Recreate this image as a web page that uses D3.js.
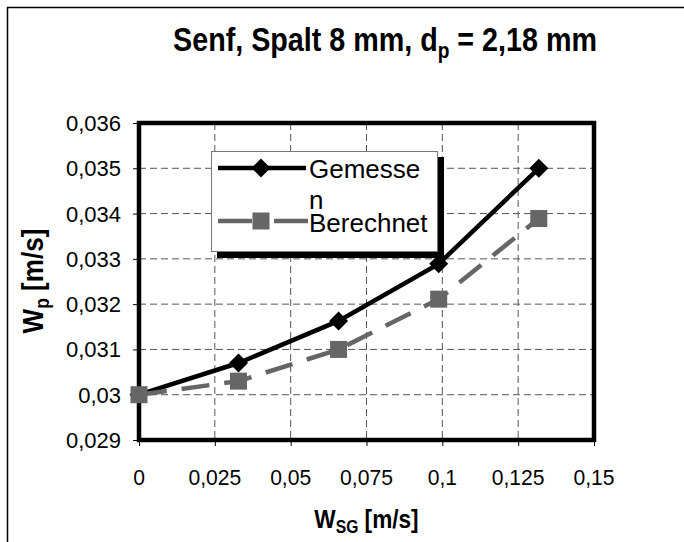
<!DOCTYPE html>
<html>
<head>
<meta charset="utf-8">
<script src="https://d3js.org/d3.v7.min.js"></script>
<style>
    body { margin: 0; background: #fff; }
    text { font-family: "Liberation Sans", Arial, sans-serif; }
</style>
</head>
<body>
<div id="chart"></div>
<script>
// data
var xValues = [0, 0.0328, 0.0658, 0.0988, 0.1318];
var gemessen = [0.0300, 0.0307, 0.03163, 0.03289, 0.0350];
var berechnet = [0.0300, 0.0303, 0.0310, 0.03211, 0.03389];
var seriesNames = ["Gemesse\nn", "Berechnet"];
var xTicks = [0, 0.025, 0.05, 0.075, 0.1, 0.125, 0.15];
var yTicks = [0.029, 0.030, 0.031, 0.032, 0.033, 0.034, 0.035, 0.036];

var W = 684, H = 542;
var plot = { left: 139, right: 594, top: 123, bottom: 440 };
var midX = (plot.left + plot.right) / 2;

var svg = d3.select("#chart")
    .append("svg")
    .attr("width", W)
    .attr("height", H);

// outer chart border (runs off the right and bottom)
svg.append("rect")
    .attr("x", 7.5).attr("y", 7.5)
    .attr("width", 800).attr("height", 800)
    .attr("fill", "none")
    .attr("stroke", "#000")
    .attr("stroke-width", 1.5);

var x = d3.scaleLinear().domain([0, 0.15]).range([plot.left, plot.right]);
var y = d3.scaleLinear().domain([0.029, 0.036]).range([plot.bottom, plot.top]);

function comma(v) {
    return String(+v.toFixed(4)).replace(".", ",");
}

// grid lines
svg.append("g")
    .selectAll("line")
    .data(yTicks.slice(1, -1))
    .enter()
    .append("line")
    .attr("x1", plot.left).attr("x2", plot.right)
    .attr("y1", function (d) { return y(d); })
    .attr("y2", function (d) { return y(d); })
    .attr("stroke", "#555")
    .attr("stroke-width", 1)
    .attr("stroke-dasharray", "7,4");

svg.append("g")
    .selectAll("line")
    .data(xTicks.slice(1, -1))
    .enter()
    .append("line")
    .attr("y1", plot.top).attr("y2", plot.bottom)
    .attr("x1", function (d) { return x(d); })
    .attr("x2", function (d) { return x(d); })
    .attr("stroke", "#555")
    .attr("stroke-width", 1)
    .attr("stroke-dasharray", "7,4");

// axes (ticks outside, labels with decimal comma drawn separately)
svg.append("g")
    .attr("transform", "translate(0," + plot.bottom + ")")
    .call(d3.axisBottom(x).tickValues(xTicks).tickSize(6).tickFormat(function () { return ""; }));
svg.append("g")
    .attr("transform", "translate(" + plot.left + ",0)")
    .call(d3.axisLeft(y).tickValues(yTicks).tickSize(6).tickFormat(function () { return ""; }));
svg.selectAll(".domain").remove();
svg.selectAll(".tick line").attr("stroke", "#000").attr("stroke-width", 1);
svg.selectAll(".tick text").remove();

svg.append("g")
    .selectAll("text")
    .data(xTicks)
    .enter()
    .append("text")
    .attr("transform", function (d) { return "translate(" + x(d) + ",485) scale(0.96,1)"; })
    .attr("text-anchor", "middle")
    .attr("font-size", 22)
    .text(function (d) { return comma(d); });

svg.append("g")
    .selectAll("text")
    .data(yTicks)
    .enter()
    .append("text")
    .attr("x", 121)
    .attr("y", function (d) { return y(d) + 8; })
    .attr("text-anchor", "end")
    .attr("font-size", 22)
    .text(function (d) { return comma(d); });

// plot frame
svg.append("rect")
    .attr("x", plot.left).attr("y", plot.top)
    .attr("width", plot.right - plot.left).attr("height", plot.bottom - plot.top)
    .attr("fill", "none")
    .attr("stroke", "#000")
    .attr("stroke-width", 4.5);

// series
var line = d3.line()
    .x(function (d, i) { return x(xValues[i]); })
    .y(function (d) { return y(d); });

var diamond = "M0,-9.5L9.5,0L0,9.5L-9.5,0Z";

svg.append("path")
    .datum(gemessen)
    .attr("fill", "none")
    .attr("stroke", "#000")
    .attr("stroke-width", 4.5)
    .attr("d", line);
svg.append("g")
    .selectAll("path")
    .data(gemessen)
    .enter()
    .append("path")
    .attr("d", diamond)
    .attr("fill", "#000")
    .attr("transform", function (d, i) { return "translate(" + x(xValues[i]) + "," + y(d) + ")"; });

svg.append("path")
    .datum(berechnet)
    .attr("fill", "none")
    .attr("stroke", "#666")
    .attr("stroke-width", 4.5)
    .attr("stroke-dasharray", "28,15")
    .attr("d", line);
svg.append("g")
    .selectAll("rect")
    .data(berechnet)
    .enter()
    .append("rect")
    .attr("x", function (d, i) { return x(xValues[i]) - 8.5; })
    .attr("y", function (d) { return y(d) - 8.5; })
    .attr("width", 17).attr("height", 17)
    .attr("fill", "#666");

// legend box with shadow
svg.append("rect")
    .attr("x", 217).attr("y", 157)
    .attr("width", 227).attr("height", 101)
    .attr("fill", "#000");
svg.append("rect")
    .attr("x", 211.5).attr("y", 151.5)
    .attr("width", 226).attr("height", 100)
    .attr("fill", "#fff")
    .attr("stroke", "#777")
    .attr("stroke-width", 1);

svg.append("line")
    .attr("x1", 218).attr("x2", 306)
    .attr("y1", 168).attr("y2", 168)
    .attr("stroke", "#000").attr("stroke-width", 4.5);
svg.append("path")
    .attr("d", diamond)
    .attr("fill", "#000")
    .attr("transform", "translate(261,168)");

svg.append("line")
    .attr("x1", 218).attr("x2", 308)
    .attr("y1", 221).attr("y2", 221)
    .attr("stroke", "#666").attr("stroke-width", 4.5)
    .attr("stroke-dasharray", "34,22");
svg.append("rect")
    .attr("x", 252.5).attr("y", 212.5)
    .attr("width", 17).attr("height", 17)
    .attr("fill", "#666");

var legendText = svg.append("text")
    .attr("font-size", 26)
    .attr("x", 309);
legendText.append("tspan").attr("x", 309).attr("y", 178).text(seriesNames[0].split("\n")[0]);
legendText.append("tspan").attr("x", 309).attr("y", 209).text(seriesNames[0].split("\n")[1]);
legendText.append("tspan").attr("x", 309).attr("y", 232).text(seriesNames[1]);

// title
var title = svg.append("text")
    .attr("transform", "translate(385,51) scale(0.87,1)")
    .attr("text-anchor", "middle")
    .attr("font-size", 33)
    .attr("font-weight", "bold");
title.append("tspan").text("Senf, Spalt 8 mm, d");
title.append("tspan").attr("font-size", 22).attr("dy", 7).text("p");
title.append("tspan").attr("dy", -7).text(" = 2,18 mm");

// axis titles
var xTitle = svg.append("text")
    .attr("transform", "translate(" + midX + ",528) scale(0.87,1)")
    .attr("text-anchor", "middle")
    .attr("font-size", 26)
    .attr("font-weight", "bold");
xTitle.append("tspan").text("W");
xTitle.append("tspan").attr("font-size", 18).attr("dy", 5).text("SG");
xTitle.append("tspan").attr("dy", -5).text(" [m/s]");

var yTitle = svg.append("text")
    .attr("transform", "translate(43,281) rotate(-90) scale(0.87,1)")
    .attr("text-anchor", "middle")
    .attr("font-size", 30)
    .attr("font-weight", "bold");
yTitle.append("tspan").text("W");
yTitle.append("tspan").attr("font-size", 20).attr("dy", 6).text("p");
yTitle.append("tspan").attr("dy", -6).text(" [m/s]");
</script>
</body>
</html>
